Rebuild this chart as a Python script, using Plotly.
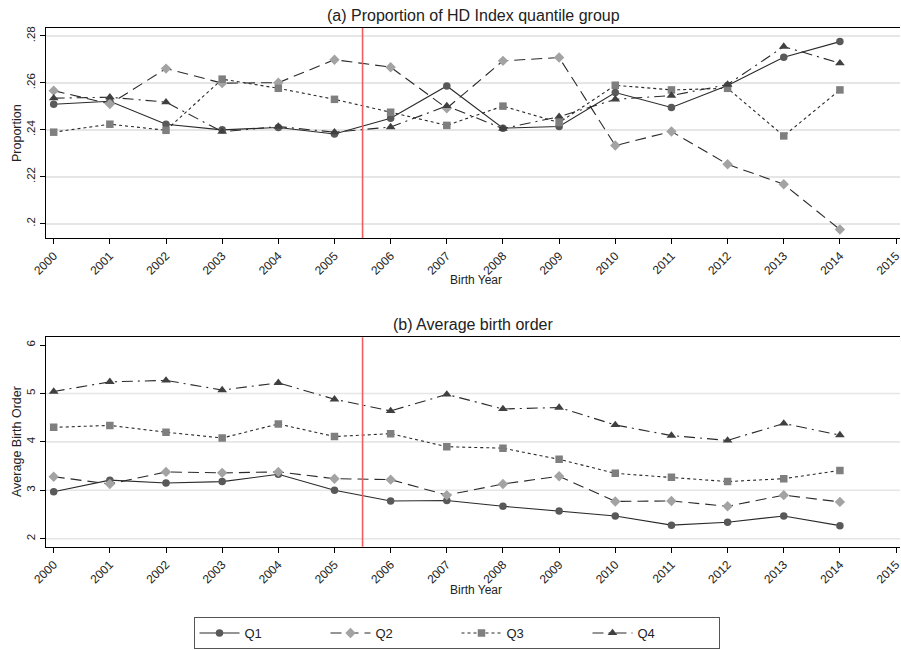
import plotly.graph_objects as go

# Birth years on the x axis
years = list(range(2000, 2015))

# (a) Proportion of each HD Index quantile group
prop_q1 = [0.2509, 0.2522, 0.2424, 0.2400, 0.2410, 0.2382, 0.2449, 0.2587,
           0.2407, 0.2414, 0.2559, 0.2495, 0.2589, 0.2709, 0.2776]
prop_q2 = [0.2567, 0.2510, 0.2661, 0.2599, 0.2601, 0.2699, 0.2667, 0.2492,
           0.2694, 0.2708, 0.2333, 0.2393, 0.2253, 0.2168, 0.1975]
prop_q3 = [0.2390, 0.2424, 0.2398, 0.2616, 0.2577, 0.2530, 0.2475, 0.2419,
           0.2501, 0.2431, 0.2590, 0.2570, 0.2577, 0.2374, 0.2570]
prop_q4 = [0.2535, 0.2539, 0.2518, 0.2392, 0.2414, 0.2390, 0.2412, 0.2502,
           0.2405, 0.2456, 0.2530, 0.2546, 0.2593, 0.2755, 0.2684]

# (b) Average birth order of each group
order_q1 = [2.97, 3.21, 3.15, 3.18, 3.33, 3.00, 2.78, 2.79,
            2.67, 2.57, 2.47, 2.28, 2.34, 2.47, 2.27]
order_q2 = [3.28, 3.13, 3.38, 3.36, 3.38, 3.24, 3.22, 2.90,
            3.13, 3.29, 2.77, 2.78, 2.67, 2.90, 2.76]
order_q3 = [4.30, 4.34, 4.20, 4.08, 4.37, 4.11, 4.17, 3.90,
            3.87, 3.64, 3.35, 3.27, 3.18, 3.24, 3.41]
order_q4 = [5.04, 5.24, 5.27, 5.07, 5.22, 4.88, 4.64, 4.98,
            4.68, 4.71, 4.35, 4.13, 4.03, 4.38, 4.14]

group_names = ["Q1", "Q2", "Q3", "Q4"]
x_ticks = list(range(2000, 2016))
prop_ticks = [0.20, 0.22, 0.24, 0.26, 0.28]
prop_tick_text = [".2", ".22", ".24", ".26", ".28"]
order_ticks = [2, 3, 4, 5, 6]
order_grid = [2, 3, 4, 5]
cutoff_year = 2005.5

FONT = "Arial, Liberation Sans, Helvetica, sans-serif"
W, H = 901, 650
L, R = 46, 1
PW = W - L - R

styles = [
    dict(line=dict(color="#2a2a2a", width=1.1, dash="solid"),
         marker=dict(symbol="circle", size=7.5, color="#595959")),
    dict(line=dict(color="#2a2a2a", width=1.1, dash="11px,6px"),
         marker=dict(symbol="diamond", size=8, color="#a3a3a3")),
    dict(line=dict(color="#2a2a2a", width=1.1, dash="3px,3px"),
         marker=dict(symbol="square", size=7.5, color="#7f7f7f")),
    dict(line=dict(color="#2a2a2a", width=1.1, dash="11px,5px,2px,5px"),
         marker=dict(symbol="triangle-up", size=8.5, color="#404040")),
]

fig = go.Figure()
for name, ys, st in zip(group_names, [prop_q1, prop_q2, prop_q3, prop_q4], styles):
    fig.add_trace(go.Scatter(x=years, y=ys, mode="lines+markers", name=name,
                             xaxis="x", yaxis="y", showlegend=True, **st))
for name, ys, st in zip(group_names, [order_q1, order_q2, order_q3, order_q4], styles):
    fig.add_trace(go.Scatter(x=years, y=ys, mode="lines+markers", name=name,
                             xaxis="x2", yaxis="y2", showlegend=False, **st))


def frac(py):
    return 1 - py / H


x_common = dict(
    range=[1999.863, 2015.07], tickvals=x_ticks, tickangle=-45,
    showline=True, linecolor="black", linewidth=1.2, mirror=True,
    ticks="outside", ticklen=5, tickcolor="black", showgrid=False,
    zeroline=False, ticklabeloverflow="allow",
    tickfont=dict(size=12, color="#222", family=FONT),
)
y_common = dict(
    showline=True, linecolor="black", linewidth=1.2,
    ticks="outside", ticklen=5, tickcolor="black", tickangle=-90,
    zeroline=False, tickfont=dict(size=11.5, color="#222", family=FONT),
)

fig.update_layout(
    width=W, height=H,
    margin=dict(l=L, r=R, t=0, b=0, autoexpand=False),
    paper_bgcolor="white", plot_bgcolor="white",
    font=dict(family=FONT, color="#222"),
    xaxis=dict(domain=[0, 1], anchor="y", **x_common),
    yaxis=dict(domain=[frac(238), frac(28)], anchor="x",
               range=[0.1939, 0.2834], tickvals=prop_ticks, ticktext=prop_tick_text,
               showgrid=True, gridcolor="#e6e6e6", gridwidth=1.6, **y_common),
    xaxis2=dict(domain=[0, 1], anchor="y2", **x_common),
    yaxis2=dict(domain=[frac(546.7), frac(337.3)], anchor="x2",
                range=[1.835, 6.16], tickvals=order_ticks,
                showgrid=False, **y_common),
    legend=dict(orientation="h", x=(456.5 - L) / PW, xanchor="center",
                y=frac(617), yanchor="top", bordercolor="#555", borderwidth=1,
                font=dict(size=13, family=FONT, color="#222"),
                entrywidth=76, entrywidthmode="pixels", itemwidth=40,
                bgcolor="white", traceorder="normal"),
)

shapes = []
for axy in ["y", "y2"]:
    shapes.append(dict(type="line", xref="x" if axy == "y" else "x2",
                       yref=f"{axy} domain", x0=cutoff_year, x1=cutoff_year,
                       y0=0, y1=1, line=dict(color="#f25c5c", width=1.6),
                       layer="above"))
for v in order_grid:
    shapes.append(dict(type="line", xref="x2 domain", yref="y2", x0=0, x1=1,
                       y0=v, y1=v, line=dict(color="#e6e6e6", width=1.6),
                       layer="below"))
fig.update_layout(shapes=shapes)

title_x = (473 - L) / PW
ytitle_x = -(L - 17) / PW
annots = [
    dict(text="(a) Proportion of HD Index quantile group", x=title_x, y=frac(15),
         font=dict(size=16)),
    dict(text="(b) Average birth order", x=title_x, y=frac(324),
         font=dict(size=16)),
    dict(text="Birth Year", x=(476 - L) / PW, y=frac(280), font=dict(size=12)),
    dict(text="Birth Year", x=(476 - L) / PW, y=frac(590), font=dict(size=12)),
    dict(text="Proportion", x=ytitle_x, y=frac(133), textangle=-90,
         font=dict(size=12.5)),
    dict(text="Average Birth Order", x=ytitle_x, y=frac(442), textangle=-90,
         font=dict(size=12.5)),
]
for a in annots:
    a.update(xref="paper", yref="paper", showarrow=False,
             xanchor="center", yanchor="middle")
fig.update_layout(annotations=annots)

fig.write_html("out.html")
